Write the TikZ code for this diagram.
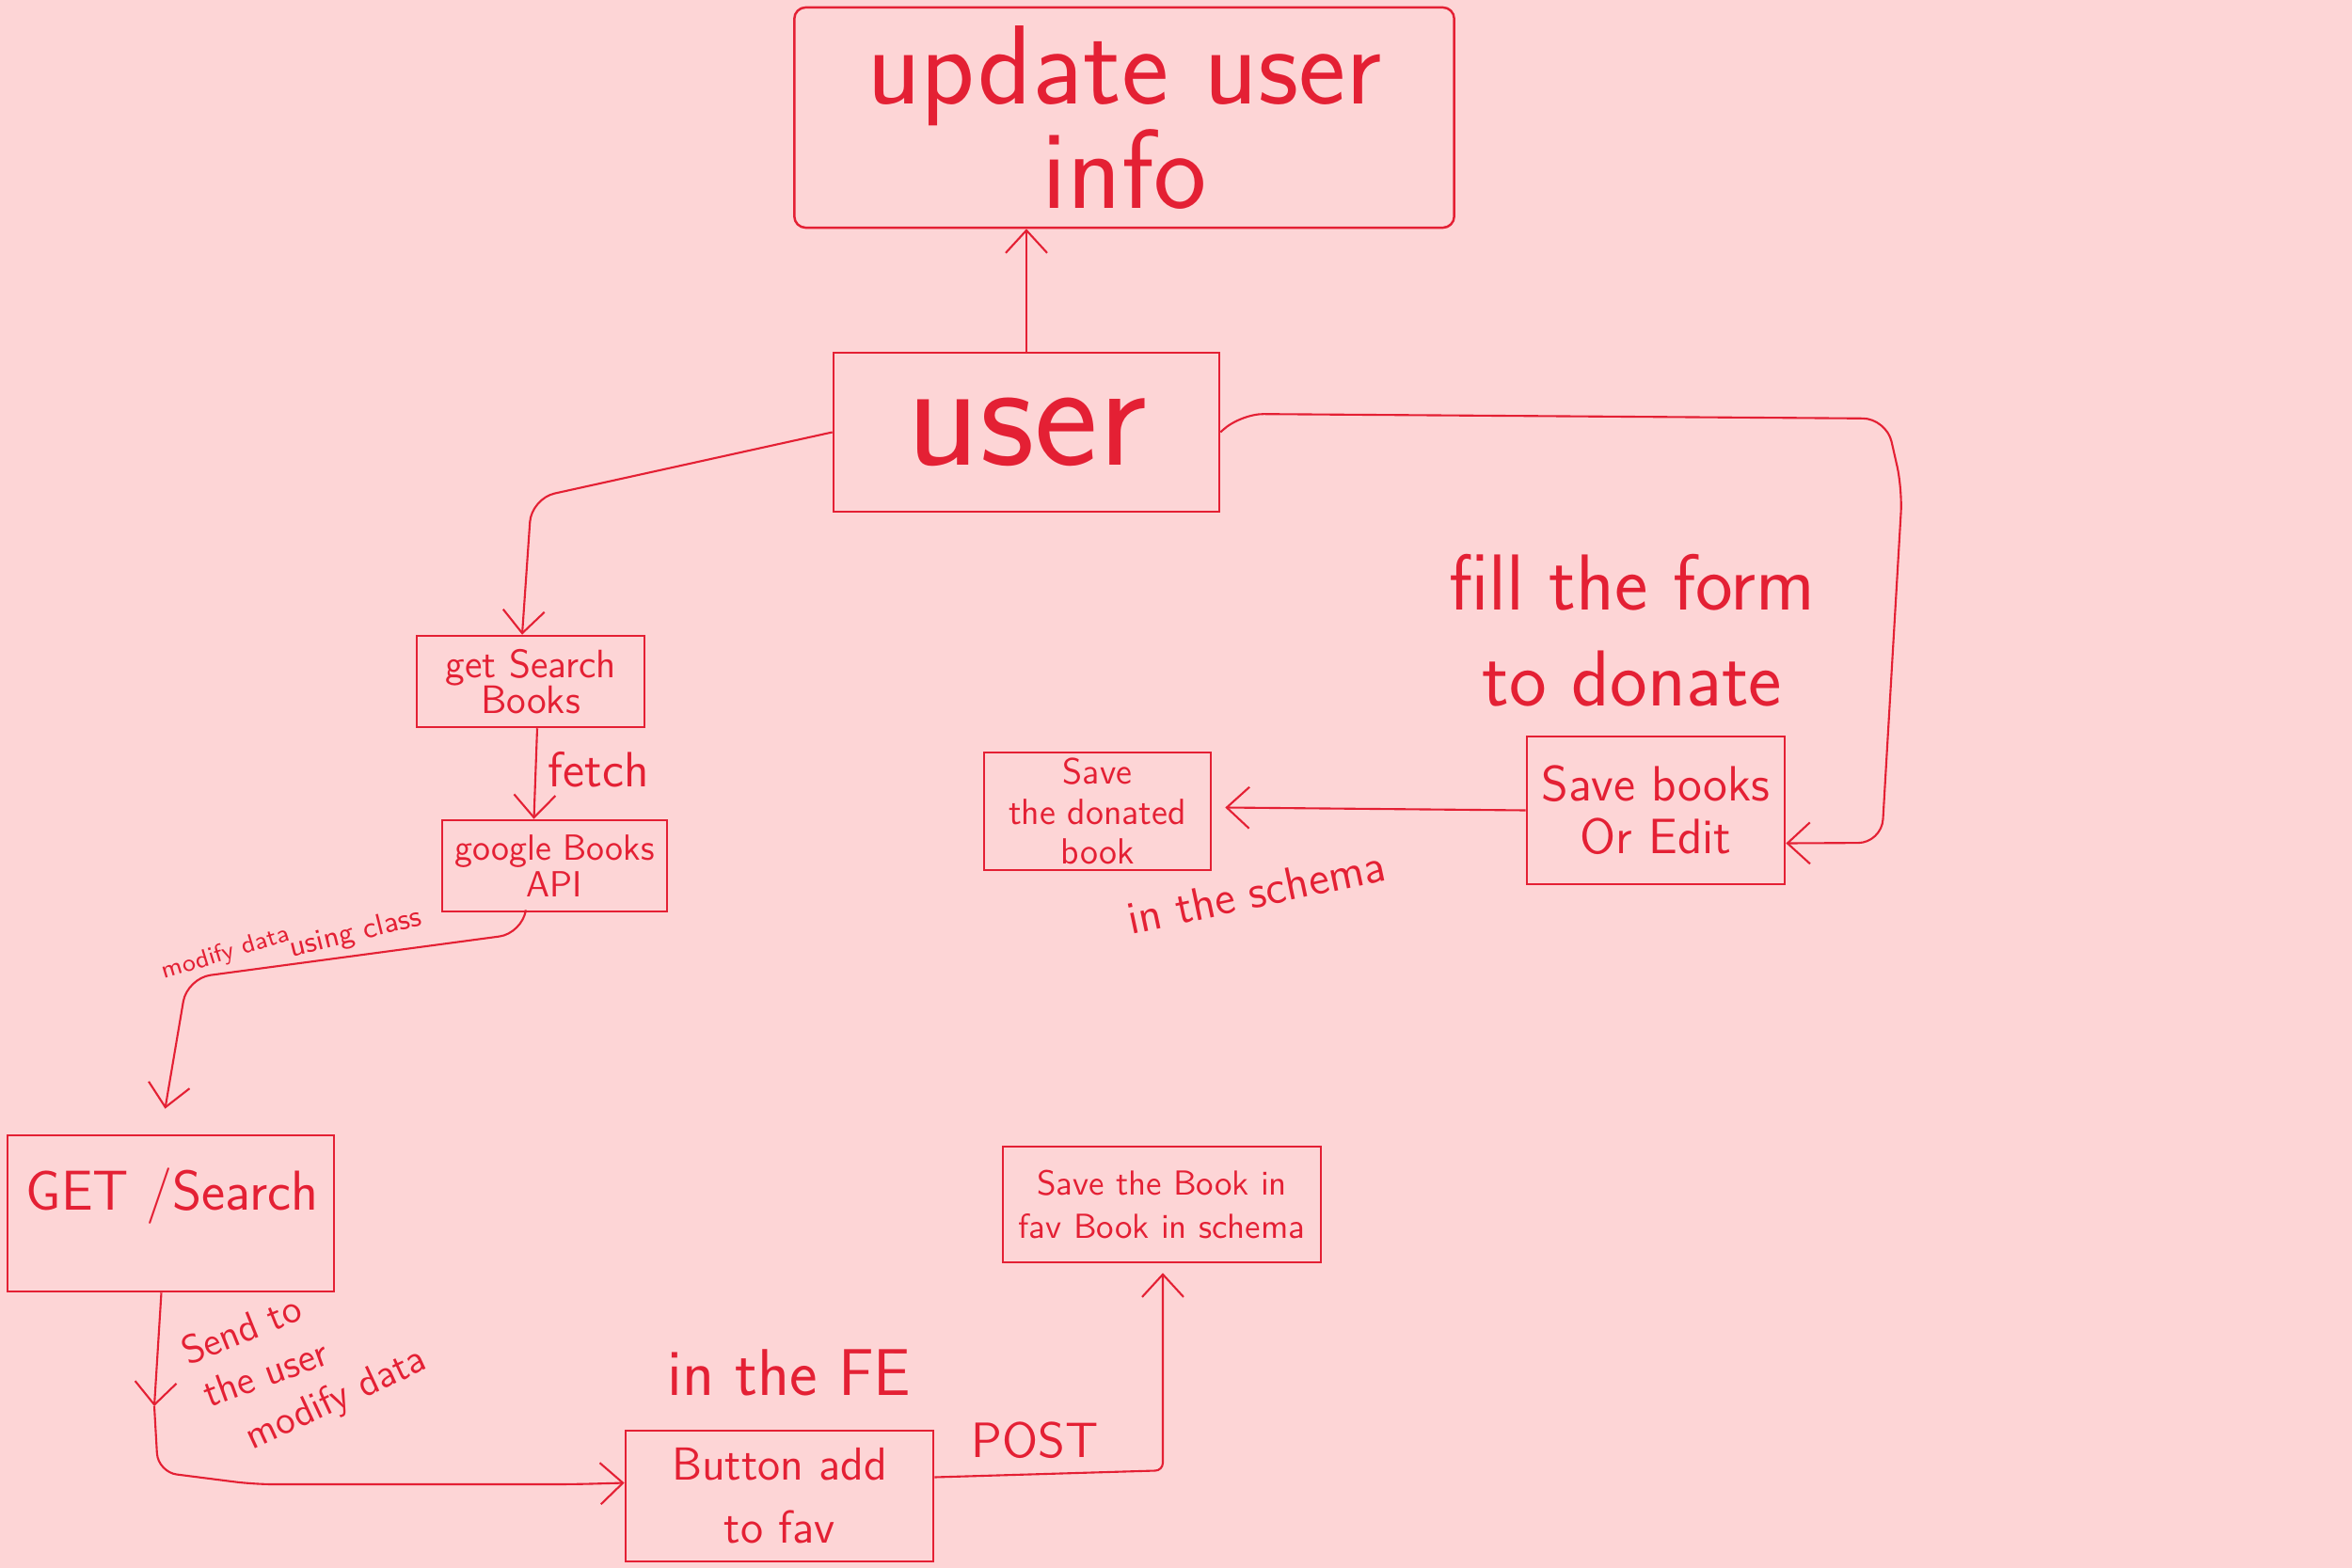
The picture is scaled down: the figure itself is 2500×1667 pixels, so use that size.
\documentclass[tikz,border=0pt]{standalone}
\usepackage{fontspec}
\usetikzlibrary{arrows.meta,calc}
\definecolor{bgpink}{RGB}{253,213,214}
\definecolor{ink}{RGB}{228,32,52}
\newcommand\myfs[2]{\fontsize{#1}{#2}\selectfont}
\begin{document}
\begin{tikzpicture}[x=0.01cm,y=-0.01cm,
  box/.style={draw=ink, line width=0.7pt, inner sep=0pt, align=center, text=ink},
  arr/.style={draw=ink, line width=0.6pt, -{Straight Barb[length=2.4mm,width=4.4mm]}},
  lbl/.style={text=ink, inner sep=0pt, align=center}]
\fill[bgpink] (0,0) rectangle (2500,1667);
\useasboundingbox (0,0) rectangle (2500,1667);

% boxes
\node[box, minimum width=7.01cm, minimum height=2.34cm, rounded corners=0.12cm,
  font=\sffamily\myfs{34}{30}] (upd) at (1195,125) {update user\\info};
\node[box, minimum width=4.10cm, minimum height=1.69cm, font=\sffamily\myfs{46}{50}] (user) at (1091,459.5) {user};
\node[box, minimum width=2.42cm, minimum height=0.97cm, font=\sffamily\myfs{12}{11}] (gsb) at (564,724.5) {get Search\\Books};
\node[box, minimum width=2.39cm, minimum height=0.97cm, font=\sffamily\myfs{11}{11}] (gba) at (589.5,920.5) {google Books\\API};
\node[box, minimum width=3.47cm, minimum height=1.66cm] (gets) at (181.5,1290) {};
\node[lbl, font=\sffamily\myfs{17}{20}] (getst) at (183,1272) {GET /Search};
\node[box, minimum width=3.27cm, minimum height=1.39cm, font=\sffamily\myfs{14}{19}] (btn) at (828.5,1590.5) {Button add\\to fav};
\node[box, minimum width=3.38cm, minimum height=1.23cm, font=\sffamily\myfs{10.5}{13}] (fav) at (1235,1280.5) {Save the Book in\\fav Book in schema};
\node[box, minimum width=2.74cm, minimum height=1.57cm, font=\sffamily\myfs{15}{16}] (sbe) at (1760,861.5) {Save books\\Or Edit};
\node[box, minimum width=2.41cm, minimum height=1.25cm, font=\sffamily\myfs{11}{12}] (sdb) at (1166.5,862.5) {Save\\the donated\\book};

% labels
\node[lbl, anchor=west, font=\sffamily\myfs{15}{16}] (lfetch) at (582,818) {fetch};
\node[lbl, rotate=17, font=\sffamily\myfs{7.5}{8}] (lmod) at (240,1014) {modify data};
\node[lbl, rotate=14, font=\sffamily\myfs{9}{10}] (lusing) at (378,993) {using class};
\node[lbl, anchor=base west, rotate=22, font=\sffamily\myfs{12}{12}] (lsend) at (200,1452) {Send to};
\node[lbl, anchor=base west, rotate=20, font=\sffamily\myfs{12}{12}] (lthe) at (222,1497) {the user};
\node[lbl, anchor=base west, rotate=25, font=\sffamily\myfs{12}{12}] (lmd) at (268,1542) {modify data};
\node[lbl, font=\sffamily\myfs{20}{22}] (lfe) at (839,1459) {in the FE};
\node[lbl, font=\sffamily\myfs{15}{16}] (lpost) at (1100,1531) {POST};
\node[lbl, font=\sffamily\myfs{24}{29}] (lfill) at (1735,670) {fill the form\\to donate};
\node[lbl, rotate=12, font=\sffamily\myfs{14}{15}] (lschema) at (1335,948) {in the schema};

% connectors
\draw[arr] (user.north) -- (user.north |- upd.south);
\draw[arr, rounded corners=0.25cm] (user.west) -- (565,530) -- ($(gsb.north)+(-9,0)$);
\draw[arr] ($(gsb.south)+(7,0)$) -- ($(gba.north)+(-22,0)$);
\draw[arr, rounded corners=0.25cm] ($(gba.south)+(-31,0)$) -- ($(gba.south)+(-34,22)$) -- (199,1040) -- (188,1105) -- ($(gets.north)+(-6,-27)$);
\coordinate (mid) at (164,1495);
\draw[arr] ($(gets.south)+(-10,0)$) -- (mid);
\draw[arr, rounded corners=0.2cm] (mid) -- (168,1565) -- (270,1578) -- (610,1578) -- ($(btn.west)+(0,-14)$);
\draw[arr, rounded corners=0.08cm] ($(btn.east)+(0,-20)$) -- ($(fav.south)+(1,220)$) -- ($(fav.south)+(1,10)$);
\draw[arr, rounded corners=0.25cm] (user.east) -- (1318,440) -- (2005,445) -- (2022,520) -- (2000,896) -- ($(sbe.east)+(0,35)$);
\draw[arr] (sbe.west) -- ($(sdb.east)+(14,-4)$);
\end{tikzpicture}
\end{document}
